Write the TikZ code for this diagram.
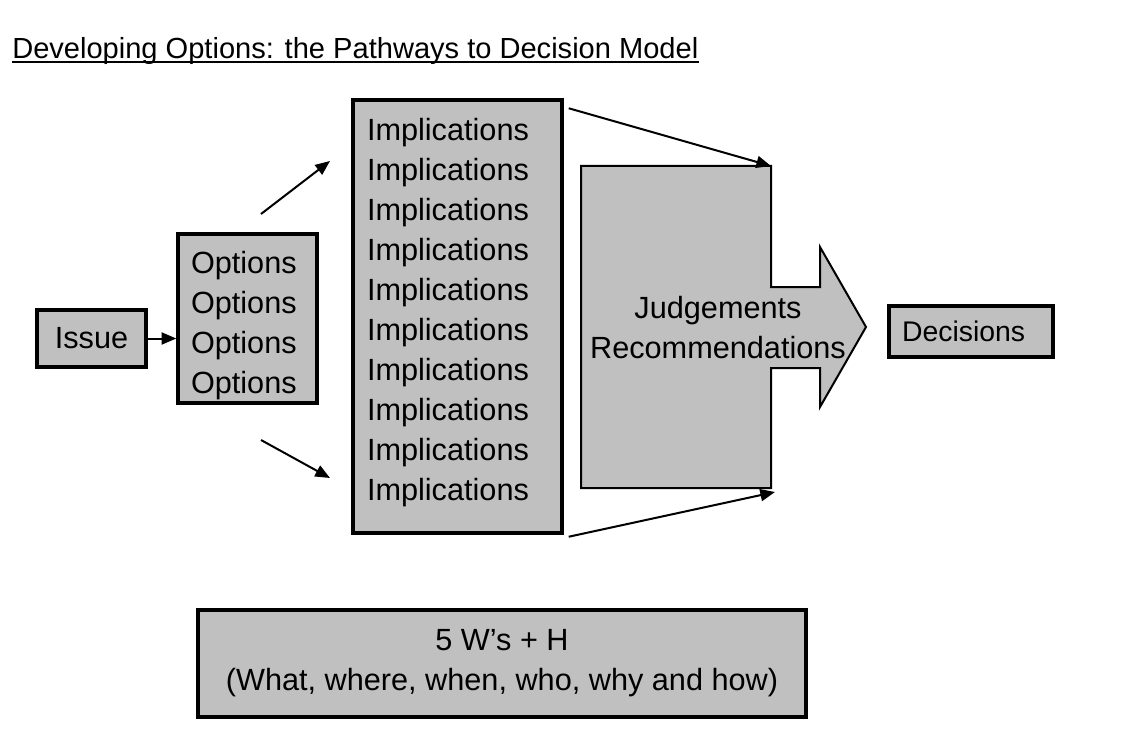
\documentclass[tikz,border=0pt]{standalone}
\usepackage{fontspec}
\setmainfont{Liberation Sans}
\usepackage{xcolor}
\usepackage{tikz}
\usetikzlibrary{arrows.meta, positioning}
\definecolor{boxgray}{RGB}{192,192,192}

\begin{document}
\begin{tikzpicture}[
        x=0.75pt, y=-0.75pt,
        box/.style={draw, line width=2.6pt, fill=boxgray, inner sep=0pt, font=\fontsize{23}{30}\selectfont},
        arrow/.style={-{Triangle[length=11pt, width=9pt]}, line width=1.5pt}
    ]
        \useasboundingbox (0,0) rectangle (1123,752);

        % Title
        \node[anchor=base west, inner sep=0pt, font=\fontsize{21.8}{26}\selectfont] (title) at (12,58.5) {Developing Options: the Pathways to Decision Model};
        \draw[line width=1.6pt] ([yshift=-2.8pt]title.base west) -- ([yshift=-2.8pt]title.base east);

        % Nodes
        \node[box, minimum width=81.75pt, minimum height=42.75pt] (iss) at (91.5,338.5) {Issue};
        \node[box, minimum width=104.25pt, minimum height=126.75pt, inner xsep=9.75pt, text width=84.75pt, align=left] (opt) at (247.5,318.5)
            {\rule{0pt}{27pt}Options\\Options\\Options\\Options};
        \node[box, minimum width=156.75pt, minimum height=324.75pt, inner xsep=10.5pt, text width=135.75pt, align=left] (impl) at (457.5,316.5)
            {Implications\\Implications\\Implications\\Implications\\Implications\\Implications\\Implications\\Implications\\Implications\\Implications\rule[-11pt]{0pt}{1pt}};

        % Big arrow
        \draw[fill=boxgray, line width=1.5pt] (581,166) -- (771,166) -- (771,287) -- (820,287) -- (820,247) -- (866,327)
            -- (820,407) -- (820,368) -- (771,368) -- (771,488) -- (581,488) -- cycle;
        \node[align=center, inner sep=0pt, font=\fontsize{23}{30}\selectfont] (judge) at (718,328) {Judgements\\Recommendations};
        \coordinate (jtop) at (771,166);
        \coordinate (jbot) at (775,492);

        \node[box, minimum width=123pt, minimum height=38.25pt, inner xsep=9.75pt, text width=103.5pt, align=left,
            font=\fontsize{21.3}{26}\selectfont] (dec) at (971,331.5) {Decisions};
        \node[box, minimum width=456pt, minimum height=80.25pt, align=center] (five) at (502,663.5) {5 W’s + H\\(What, where, when, who, why and how)};

        % Arrows
        \coordinate (upa) at (261,214);
        \coordinate (upb) at (330,161);
        \coordinate (dna) at (261,440);
        \coordinate (dnb) at (330,478);
        \draw[arrow] (iss.east) -- (iss.east -| opt.west);
        \draw[arrow] (upa) -- (upb);
        \draw[arrow] (dna) -- (dnb);
        \draw[arrow] ([shift={(5,10)}]impl.north east) -- (jtop);
        \draw[arrow] ([shift={(5,2)}]impl.south east) -- (jbot);

    \end{tikzpicture}
\end{document}
